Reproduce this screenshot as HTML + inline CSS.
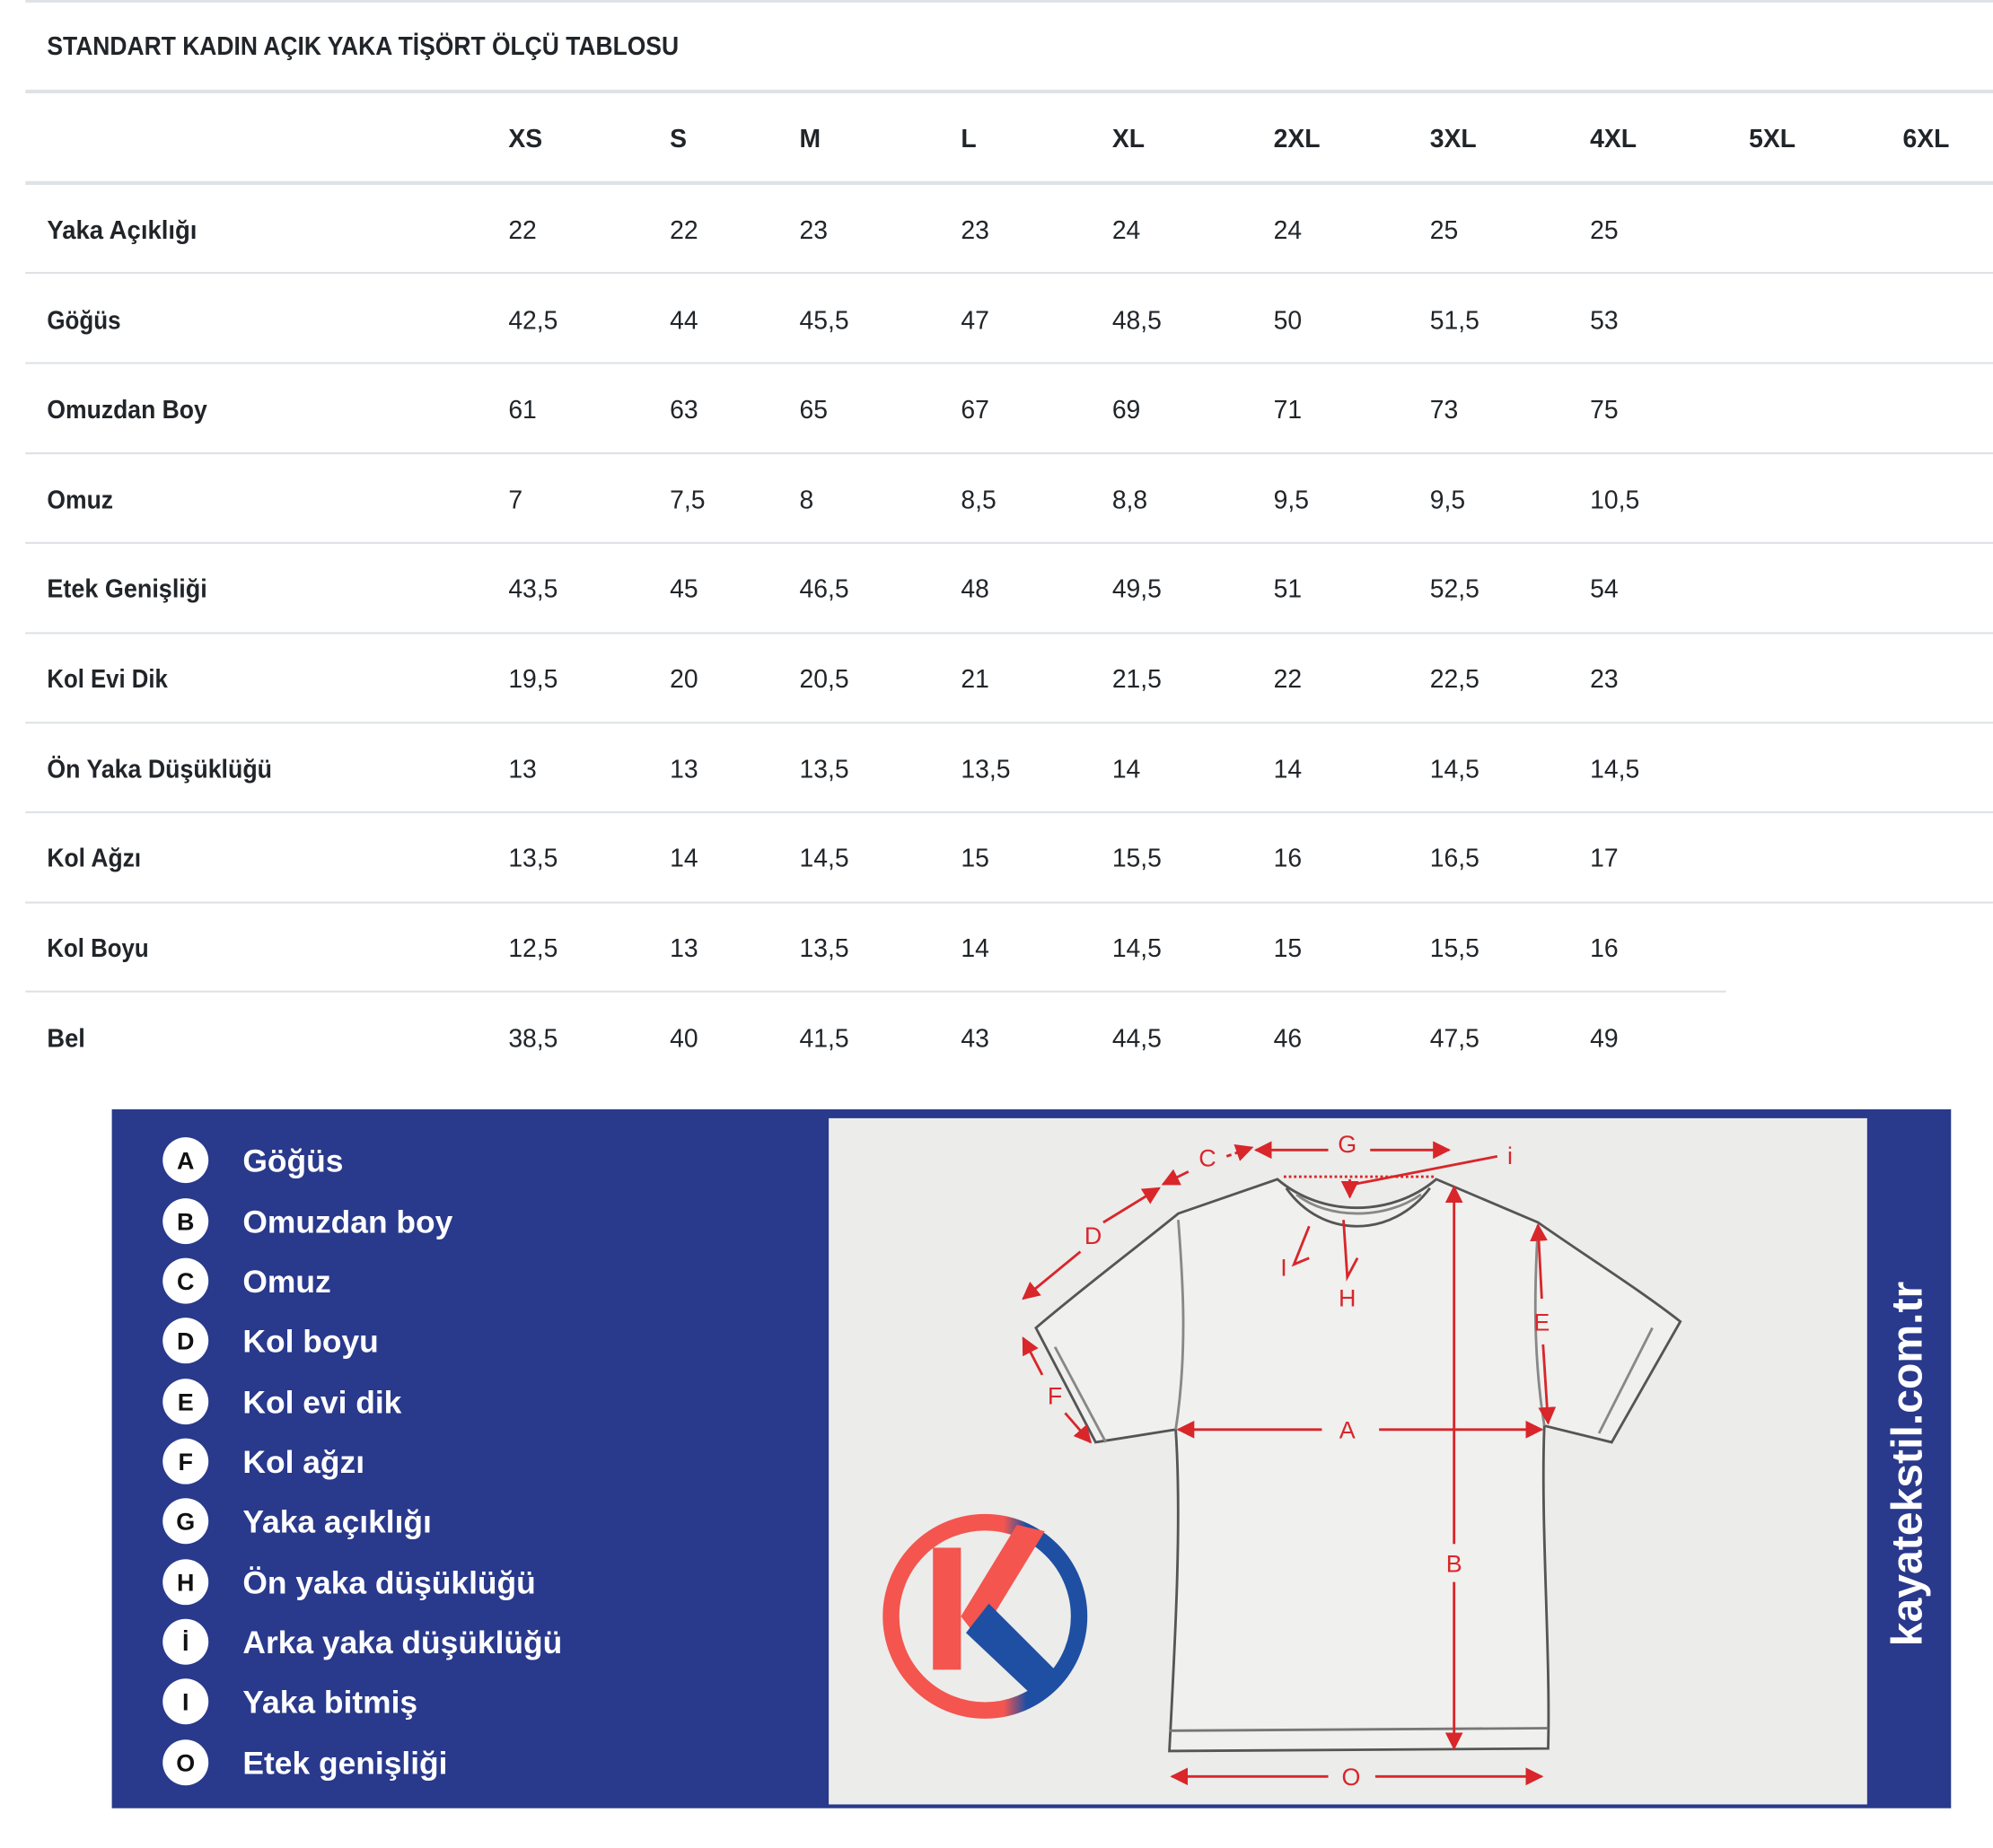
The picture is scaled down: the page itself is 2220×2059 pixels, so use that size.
<!DOCTYPE html>
<html><head><meta charset="utf-8"><style>
html,body{margin:0;padding:0;background:#fff;width:2220px;height:2059px;overflow:hidden}
svg{display:block}
.t{font-family:"Liberation Sans Narrow","Liberation Sans",sans-serif;fill:#212529}
.b{font-weight:bold}
.lg{font-family:"Liberation Sans","DejaVu Sans",sans-serif;fill:#fff;font-size:25px;font-weight:bold}
.ci{font-family:"Liberation Sans",sans-serif;font-size:19px;font-weight:bold;fill:#111}
.r{fill:none;stroke:#d8262b;stroke-width:2}
.rl{font-family:"Liberation Sans",sans-serif;font-size:19px;fill:#d8262b}
</style></head><body>
<svg width="2220" height="2059" viewBox="0 0 1568 1454.3" xmlns="http://www.w3.org/2000/svg">
<defs>
<marker id="ah" viewBox="0 0 10 10" refX="9" refY="5" markerWidth="7" markerHeight="7" orient="auto-start-reverse"><path d="M0,0L10,5L0,10z" fill="#d8262b"/></marker>
<linearGradient id="lgc" x1="0" x2="1" y1="0" y2="0"><stop offset="0.6" stop-color="#f4554f"/><stop offset="0.72" stop-color="#1e4fa3"/></linearGradient>
</defs>
<rect width="1568" height="1455" fill="#fff"/>
<g fill="#dee2e6">
<rect x="20" y="0" width="1548" height="2"/>
<rect x="20" y="70.5" width="1548" height="3"/>
<rect x="20" y="142.5" width="1548" height="3"/>
<rect x="20" y="214" width="1548" height="1.5"/>
<rect x="20" y="285" width="1548" height="1.5"/>
<rect x="20" y="356" width="1548" height="1.5"/>
<rect x="20" y="426.5" width="1548" height="1.5"/>
<rect x="20" y="497.5" width="1548" height="1.5"/>
<rect x="20" y="568" width="1548" height="1.5"/>
<rect x="20" y="638.5" width="1548" height="1.5"/>
<rect x="20" y="709.5" width="1548" height="1.5"/>
<rect x="20" y="779.5" width="1338" height="1.5"/>
</g>
<text class="t b" x="37" y="43" font-size="20" textLength="497" lengthAdjust="spacingAndGlyphs">STANDART KADIN AÇIK YAKA TİŞÖRT ÖLÇÜ TABLOSU</text>
<g class="t b" font-size="20">
<text x="400" y="116">XS</text><text x="527" y="116">S</text><text x="629" y="116">M</text><text x="756" y="116">L</text><text x="875" y="116">XL</text><text x="1002" y="116">2XL</text><text x="1125" y="116">3XL</text><text x="1251" y="116">4XL</text><text x="1376" y="116">5XL</text><text x="1497" y="116">6XL</text>
</g>
<g class="t" font-size="20">
<g class="b"><text x="37" y="188" textLength="118" lengthAdjust="spacingAndGlyphs">Yaka Açıklığı</text><text x="37" y="259" textLength="58" lengthAdjust="spacingAndGlyphs">Göğüs</text><text x="37" y="329" textLength="126" lengthAdjust="spacingAndGlyphs">Omuzdan Boy</text><text x="37" y="400" textLength="52" lengthAdjust="spacingAndGlyphs">Omuz</text><text x="37" y="470" textLength="126" lengthAdjust="spacingAndGlyphs">Etek Genişliği</text><text x="37" y="541" textLength="95" lengthAdjust="spacingAndGlyphs">Kol Evi Dik</text><text x="37" y="612" textLength="177" lengthAdjust="spacingAndGlyphs">Ön Yaka Düşüklüğü</text><text x="37" y="682" textLength="74" lengthAdjust="spacingAndGlyphs">Kol Ağzı</text><text x="37" y="753" textLength="80" lengthAdjust="spacingAndGlyphs">Kol Boyu</text><text x="37" y="824" textLength="30" lengthAdjust="spacingAndGlyphs">Bel</text></g>
<g><text x="400" y="188">22</text><text x="527" y="188">22</text><text x="629" y="188">23</text><text x="756" y="188">23</text><text x="875" y="188">24</text><text x="1002" y="188">24</text><text x="1125" y="188">25</text><text x="1251" y="188">25</text></g>
<g><text x="400" y="259">42,5</text><text x="527" y="259">44</text><text x="629" y="259">45,5</text><text x="756" y="259">47</text><text x="875" y="259">48,5</text><text x="1002" y="259">50</text><text x="1125" y="259">51,5</text><text x="1251" y="259">53</text></g>
<g><text x="400" y="329">61</text><text x="527" y="329">63</text><text x="629" y="329">65</text><text x="756" y="329">67</text><text x="875" y="329">69</text><text x="1002" y="329">71</text><text x="1125" y="329">73</text><text x="1251" y="329">75</text></g>
<g><text x="400" y="400">7</text><text x="527" y="400">7,5</text><text x="629" y="400">8</text><text x="756" y="400">8,5</text><text x="875" y="400">8,8</text><text x="1002" y="400">9,5</text><text x="1125" y="400">9,5</text><text x="1251" y="400">10,5</text></g>
<g><text x="400" y="470">43,5</text><text x="527" y="470">45</text><text x="629" y="470">46,5</text><text x="756" y="470">48</text><text x="875" y="470">49,5</text><text x="1002" y="470">51</text><text x="1125" y="470">52,5</text><text x="1251" y="470">54</text></g>
<g><text x="400" y="541">19,5</text><text x="527" y="541">20</text><text x="629" y="541">20,5</text><text x="756" y="541">21</text><text x="875" y="541">21,5</text><text x="1002" y="541">22</text><text x="1125" y="541">22,5</text><text x="1251" y="541">23</text></g>
<g><text x="400" y="612">13</text><text x="527" y="612">13</text><text x="629" y="612">13,5</text><text x="756" y="612">13,5</text><text x="875" y="612">14</text><text x="1002" y="612">14</text><text x="1125" y="612">14,5</text><text x="1251" y="612">14,5</text></g>
<g><text x="400" y="682">13,5</text><text x="527" y="682">14</text><text x="629" y="682">14,5</text><text x="756" y="682">15</text><text x="875" y="682">15,5</text><text x="1002" y="682">16</text><text x="1125" y="682">16,5</text><text x="1251" y="682">17</text></g>
<g><text x="400" y="753">12,5</text><text x="527" y="753">13</text><text x="629" y="753">13,5</text><text x="756" y="753">14</text><text x="875" y="753">14,5</text><text x="1002" y="753">15</text><text x="1125" y="753">15,5</text><text x="1251" y="753">16</text></g>
<g><text x="400" y="824">38,5</text><text x="527" y="824">40</text><text x="629" y="824">41,5</text><text x="756" y="824">43</text><text x="875" y="824">44,5</text><text x="1002" y="824">46</text><text x="1125" y="824">47,5</text><text x="1251" y="824">49</text></g>
</g>
<!-- banner -->
<rect x="88" y="873" width="1447" height="550" fill="#29398c"/>
<rect x="652" y="880" width="817" height="540" fill="#ececea"/>
<g>
<circle cx="146" cy="913" r="18" fill="#fff"/><circle cx="146" cy="961" r="18" fill="#fff"/><circle cx="146" cy="1008" r="18" fill="#fff"/><circle cx="146" cy="1055" r="18" fill="#fff"/><circle cx="146" cy="1103" r="18" fill="#fff"/><circle cx="146" cy="1150" r="18" fill="#fff"/><circle cx="146" cy="1197" r="18" fill="#fff"/><circle cx="146" cy="1245" r="18" fill="#fff"/><circle cx="146" cy="1292" r="18" fill="#fff"/><circle cx="146" cy="1339" r="18" fill="#fff"/><circle cx="146" cy="1387" r="18" fill="#fff"/>
</g>
<g class="ci" text-anchor="middle">
<text x="146" y="920">A</text><text x="146" y="968">B</text><text x="146" y="1015">C</text><text x="146" y="1062">D</text><text x="146" y="1110">E</text><text x="146" y="1157">F</text><text x="146" y="1204">G</text><text x="146" y="1252">H</text><text x="146" y="1299">İ</text><text x="146" y="1346">I</text><text x="146" y="1394">O</text>
</g>
<g class="lg">
<text x="191" y="922">Göğüs</text><text x="191" y="970">Omuzdan boy</text><text x="191" y="1017">Omuz</text><text x="191" y="1064">Kol boyu</text><text x="191" y="1112">Kol evi dik</text><text x="191" y="1159">Kol ağzı</text><text x="191" y="1206">Yaka açıklığı</text><text x="191" y="1254">Ön yaka düşüklüğü</text><text x="191" y="1301">Arka yaka düşüklüğü</text><text x="191" y="1348">Yaka bitmiş</text><text x="191" y="1396">Etek genişliği</text>
</g>
<!-- shirt -->
<g fill="none" stroke="#555" stroke-width="2">
<path d="M1005,928 C1040,958 1095,958 1130,928 L1210,962 C1250,990 1290,1015 1322,1040 L1268,1135 L1215,1122 C1212,1200 1220,1300 1218,1376 L920,1378 C924,1300 930,1200 925,1125 L862,1135 L815,1045 C850,1015 890,985 927,955 Z" fill="#f0f0ee"/>
<path d="M1012,935 C1040,975 1095,975 1125,935" />
<path d="M1020,940 C1045,960 1090,960 1118,940" stroke="#888"/>
<path d="M920,1362 L1218,1360" stroke="#777"/>
<path d="M925,1125 C935,1060 930,1000 927,960" stroke="#888"/>
<path d="M1215,1122 C1205,1060 1208,1000 1210,965" stroke="#888"/>
<path d="M830,1060 L870,1135" stroke="#888"/>
<path d="M1300,1045 L1258,1128" stroke="#888"/>
</g>
<!-- arrows -->
<g class="r">
<line x1="988" y1="905" x2="1045" y2="905" marker-start="url(#ah)"/>
<line x1="1078" y1="905" x2="1140" y2="905" marker-end="url(#ah)"/>
<line x1="1010" y1="926" x2="1130" y2="926" stroke-dasharray="2,2"/>
<line x1="965" y1="910" x2="985" y2="903" marker-end="url(#ah)" stroke-dasharray="4,3"/>
<line x1="935" y1="922" x2="915" y2="932" marker-end="url(#ah)"/>
<line x1="850" y1="985" x2="805" y2="1022" marker-end="url(#ah)"/>
<line x1="868" y1="962" x2="912" y2="935" marker-end="url(#ah)"/>
<line x1="820" y1="1082" x2="805" y2="1053" marker-end="url(#ah)"/>
<line x1="838" y1="1112" x2="858" y2="1135" marker-end="url(#ah)"/>
<line x1="1213" y1="1022" x2="1210" y2="964" marker-end="url(#ah)"/>
<line x1="1214" y1="1058" x2="1218" y2="1120" marker-end="url(#ah)"/>
<line x1="1040" y1="1125" x2="927" y2="1125" marker-end="url(#ah)"/>
<line x1="1085" y1="1125" x2="1213" y2="1125" marker-end="url(#ah)"/>
<line x1="1144" y1="1215" x2="1144" y2="934" marker-end="url(#ah)"/>
<line x1="1144" y1="1245" x2="1144" y2="1376" marker-end="url(#ah)"/>
<line x1="1045" y1="1398" x2="922" y2="1398" marker-end="url(#ah)"/>
<line x1="1082" y1="1398" x2="1213" y2="1398" marker-end="url(#ah)"/>
<line x1="1065" y1="932" x2="1178" y2="910"/>
<line x1="1062" y1="928" x2="1062" y2="942" marker-end="url(#ah)"/>
<path d="M1057,960 L1060,1005 L1068,990"/>
<path d="M1030,965 L1018,995 L1030,990"/>
</g>
<g class="rl" text-anchor="middle">
<text x="1060" y="907">G</text><text x="950" y="918">C</text><text x="860" y="979">D</text><text x="830" y="1105">F</text><text x="1213" y="1047">E</text><text x="1060" y="1132">A</text><text x="1144" y="1237">B</text><text x="1063" y="1405">O</text><text x="1188" y="916">i</text><text x="1060" y="1028">H</text><text x="1010" y="1004">I</text>
</g>
<!-- logo -->
<circle cx="775" cy="1272" r="74" fill="none" stroke="url(#lgc)" stroke-width="13"/>
<rect x="734" y="1218" width="22" height="96" fill="#f4554f"/>
<polygon points="756,1272 800,1200 822,1205 770,1290" fill="#f4554f"/>
<polygon points="760,1285 778,1262 832,1316 812,1334" fill="#1e4fa3"/>
<text x="1512" y="1152" transform="rotate(-90 1512 1152)" text-anchor="middle" font-family="Liberation Sans, sans-serif" font-weight="bold" font-size="34" fill="#fff">kayatekstil.com.tr</text>
</svg>
</body></html>
